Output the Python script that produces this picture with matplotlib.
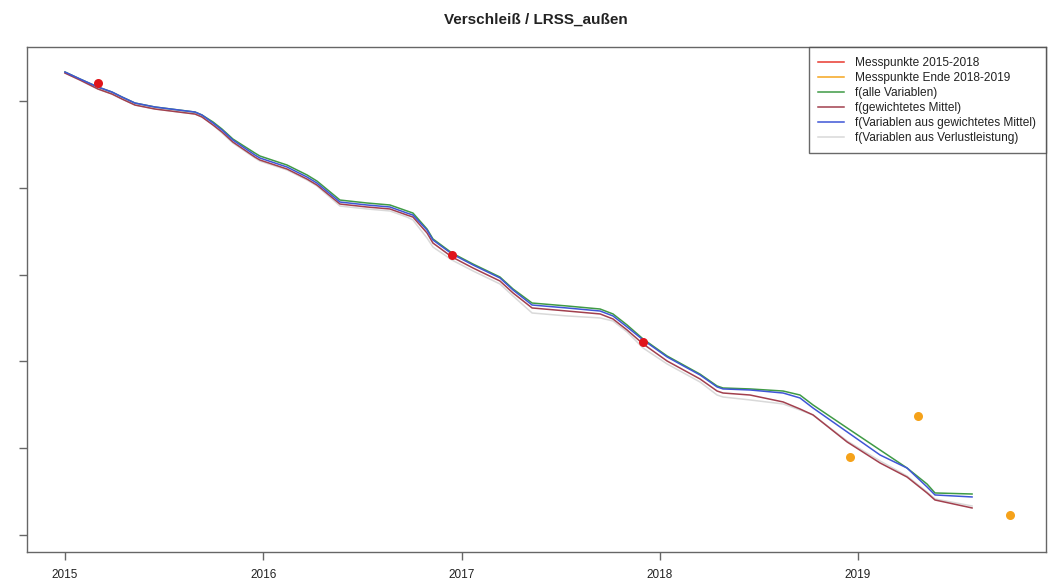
import matplotlib
matplotlib.use('Agg')
import matplotlib.pyplot as plt
from matplotlib.lines import Line2D

plt.rcParams['font.family'] = ['Liberation Sans', 'DejaVu Sans']

# Zeitachse der Modellkurven (Dezimaljahre)
t = [2015.000, 2015.076, 2015.166, 2015.237, 2015.288, 2015.353, 2015.454, 2015.656,
     2015.691, 2015.747, 2015.792, 2015.847, 2015.958, 2015.983, 2016.120, 2016.221,
     2016.271, 2016.387, 2016.523, 2016.639, 2016.725, 2016.755, 2016.826, 2016.856,
     2016.952, 2017.058, 2017.194, 2017.260, 2017.356, 2017.532, 2017.699, 2017.764,
     2017.835, 2017.916, 2018.037, 2018.203, 2018.289, 2018.319, 2018.455, 2018.622,
     2018.707, 2018.773, 2018.945, 2019.111, 2019.247, 2019.348, 2019.388, 2019.575]

f_alle = [5.337, 5.256, 5.164, 5.106, 5.048, 4.979, 4.933, 4.875, 4.841, 4.760, 4.679, 4.564,
          4.402, 4.368, 4.264, 4.149, 4.079, 3.860, 3.826, 3.803, 3.734, 3.710, 3.526, 3.411,
          3.249, 3.122, 2.972, 2.834, 2.672, 2.638, 2.603, 2.546, 2.419, 2.257, 2.061, 1.852,
          1.715, 1.692, 1.681, 1.657, 1.611, 1.496, 1.231, 0.977, 0.769, 0.584, 0.481, 0.469]

f_gew_mittel = [5.325, 5.244, 5.141, 5.083, 5.025, 4.956, 4.910, 4.852, 4.818, 4.725, 4.645, 4.529,
                4.356, 4.322, 4.218, 4.102, 4.033, 3.814, 3.780, 3.757, 3.687, 3.664, 3.480, 3.364,
                3.203, 3.076, 2.926, 2.788, 2.615, 2.580, 2.546, 2.488, 2.361, 2.200, 2.003, 1.796,
                1.657, 1.634, 1.611, 1.531, 1.450, 1.381, 1.069, 0.827, 0.665, 0.481, 0.400, 0.308]

f_var_gew_mittel = [5.337, 5.256, 5.164, 5.106, 5.048, 4.979, 4.933, 4.875, 4.841, 4.748, 4.668, 4.552,
                    4.379, 4.345, 4.241, 4.125, 4.056, 3.837, 3.803, 3.780, 3.710, 3.687, 3.514, 3.399,
                    3.238, 3.111, 2.961, 2.822, 2.649, 2.615, 2.580, 2.523, 2.396, 2.246, 2.050, 1.842,
                    1.704, 1.681, 1.669, 1.634, 1.577, 1.461, 1.185, 0.919, 0.769, 0.550, 0.458, 0.435]

f_var_verlust = [5.325, 5.244, 5.141, 5.083, 5.025, 4.956, 4.910, 4.852, 4.818, 4.725, 4.633, 4.518,
                 4.345, 4.310, 4.207, 4.091, 4.022, 3.791, 3.757, 3.734, 3.664, 3.630, 3.422, 3.318,
                 3.168, 3.042, 2.892, 2.753, 2.557, 2.523, 2.500, 2.465, 2.338, 2.153, 1.969, 1.761,
                 1.611, 1.588, 1.554, 1.508, 1.438, 1.381, 1.081, 0.850, 0.677, 0.492, 0.412, 0.331]

# Messpunkte
mess_t = [2015.165, 2016.952, 2017.916]
mess_y = [5.206, 3.227, 2.226]
mess_ende_t = [2018.960, 2019.303, 2019.767]
mess_ende_y = [0.896, 1.369, 0.227]

labels = ['Messpunkte 2015-2018', 'Messpunkte Ende 2018-2019', 'f(alle Variablen)',
          'f(gewichtetes Mittel)', 'f(Variablen aus gewichtetes Mittel)',
          'f(Variablen aus Verlustleistung)']
colors = ['#e8392f', '#f5a51e', '#3f9a45', '#a2404e', '#3f56d6', '#d9d9d9']

fig = plt.figure(figsize=(10.64, 5.84), dpi=100)
ax = fig.add_axes([0.0251, 0.0548, 0.9580, 0.8642])

ax.plot(t, f_var_verlust, color=colors[5], lw=1.1)
ax.plot(t, f_alle, color=colors[2], lw=1.1)
ax.plot(t, f_gew_mittel, color=colors[3], lw=1.1)
ax.plot(t, f_var_gew_mittel, color=colors[4], lw=1.1)
ax.plot(mess_t, mess_y, 'o', color='#e0151b', ms=6.5, mec='none')
ax.plot(mess_ende_t, mess_ende_y, 'o', color='#f5a21a', ms=6.5, mec='none')

ax.set_xlim(2014.807, 2019.948)
ax.set_ylim(-0.200, 5.622)
ax.set_xticks([2015, 2016, 2017, 2018, 2019])
ax.set_xticklabels(['2015', '2016', '2017', '2018', '2019'])
ax.set_yticks([0, 1, 2, 3, 4, 5])
ax.set_yticklabels([])
ax.tick_params(axis='both', direction='out', length=6, width=1, color='#666666',
               labelsize=8.5, labelcolor='#222222')
ax.tick_params(axis='x', pad=6)
for s in ax.spines.values():
    s.set_color('#666666')
    s.set_linewidth(1)

ax.set_title('Verschleiß / LRSS_außen', fontsize=11, fontweight='bold', color='#222222', pad=17)

handles = [Line2D([], [], color=c, lw=1.1) for c in colors]
leg = ax.legend(handles, labels, loc='upper right', borderaxespad=0, fontsize=8.6,
                frameon=True, fancybox=False, handlelength=2.1, handletextpad=1.0,
                labelspacing=0.25, borderpad=0.8)
leg.get_frame().set_edgecolor('#444444')
leg.get_frame().set_linewidth(1)
for txt in leg.get_texts():
    txt.set_color('#222222')

fig.savefig('out.png', dpi=100)
